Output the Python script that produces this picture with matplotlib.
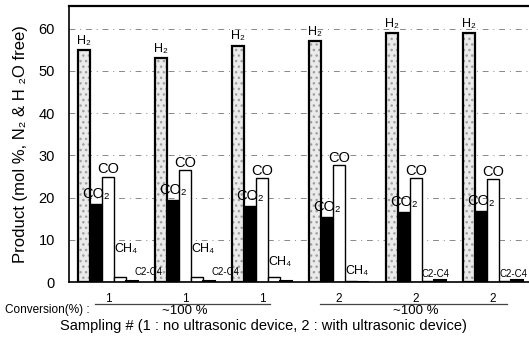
import numpy as np
import matplotlib.pyplot as plt
from matplotlib.transforms import blended_transform_factory

plt.rcParams['font.family'] = ['Liberation Sans', 'DejaVu Sans']

# sampling number of each run (1: no ultrasonic device, 2: with ultrasonic device)
sampling = ['1', '1', '1', '2', '2', '2']
h2 = [55.0, 53.1, 56.0, 57.1, 59.0, 59.0]
co2 = [18.5, 19.4, 18.0, 15.4, 16.6, 16.8]
co = [24.9, 26.5, 24.6, 27.7, 24.6, 24.4]
ch4 = [1.2, 1.2, 1.1, 0.3, 0.15, 0.15]
c2c4 = [0.3, 0.3, 0.2, 0.1, 0.4, 0.4]

fig = plt.figure(figsize=(5.29, 3.43), dpi=100)
ax = fig.add_axes([69/529, 1-282/343, 1-69/529, 276/343])

x = np.arange(len(h2))
w = 12/77

# grid behind the bars
for yv in range(10, 70, 10):
    ax.axhline(yv, color='#888888', lw=0.7, ls=(0, (6, 5, 1, 5)), zorder=0)

# stippled H2 bars
ax.bar(x, h2, w, color='#ebebeb', edgecolor='#a0a0a0', hatch='...', lw=0, zorder=2)
ax.bar(x, h2, w, fill=False, edgecolor='black', lw=1.6, zorder=3)
ax.bar(x + w, co2, w, color='black', edgecolor='black', lw=1, zorder=2)
ax.bar(x + 2*w, co, w, color='white', edgecolor='black', lw=1, zorder=2)
ax.bar(x + 3*w, ch4, w, color='white', edgecolor='black', lw=1, zorder=2)
ax.bar(x + 4*w, c2c4, w, color='white', edgecolor='black', lw=1.5, zorder=2)

# bar labels
for i in x:
    ax.text(i, h2[i] + 0.8, 'H₂', ha='center', va='bottom', fontsize=9)
    ax.text(i + w, co2[i] + 0.8, 'CO₂', ha='center', va='bottom', fontsize=10.5, zorder=4)
    ax.text(i + 2*w, co[i] + 0.1, 'CO', ha='center', va='bottom', fontsize=10.5)

ch4_label = {0: 6.5, 1: 6.5, 2: 3.2, 3: 1.2}
for i, yv in ch4_label.items():
    ax.text(i + 2.5*w, yv, 'CH₄', ha='left', va='bottom', fontsize=9)
c2_label = {0: 4.5*w - 0.05, 1: 4.5*w - 0.05, 4: 2.5*w, 5: 2.5*w}
for i, dx in c2_label.items():
    ax.text(i + dx, 1.2 if i < 2 else 0.6, 'C2-C4', ha='left', va='bottom', fontsize=7)

ax.set_xlim(-15/77, 445/77)
ax.set_ylim(0, 65.4)
ax.set_yticks(range(0, 70, 10))
ax.set_xticks(x + 2*w)
ax.set_xticklabels(sampling, fontsize=8.5)
ax.tick_params(axis='x', length=0, pad=8)
ax.tick_params(axis='y', length=0, pad=10, labelsize=10.5)
ax.spines['right'].set_visible(False)
ax.spines['top'].set_linewidth(1.6)
ax.spines['left'].set_linewidth(1.2)
ax.spines['bottom'].set_linewidth(1.2)
ax.set_ylabel('Product (mol %, N₂ & H ₂O free)', fontsize=12, labelpad=8)

# conversion rows under the ticks
trans = blended_transform_factory(ax.transData, ax.transAxes)
ax.plot([0.14, 2.42], [-0.08, -0.08], color='#444444', lw=0.9, transform=trans, clip_on=False)
ax.plot([3.06, 5.49], [-0.08, -0.08], color='#444444', lw=0.9, transform=trans, clip_on=False)
ax.text(1 + 2*w, -0.085, '~100 %', ha='center', va='top', fontsize=9.5, transform=trans)
ax.text(4 + 2*w, -0.085, '~100 %', ha='center', va='top', fontsize=9.5, transform=trans)
fig.text(5/529, 1-310/343, 'Conversion(%) :', ha='left', va='center', fontsize=8.5)
fig.text(263/529, 1-326/343, 'Sampling # (1 : no ultrasonic device, 2 : with ultrasonic device)',
         ha='center', va='center', fontsize=10.5)

fig.savefig('out.png', dpi=100)
